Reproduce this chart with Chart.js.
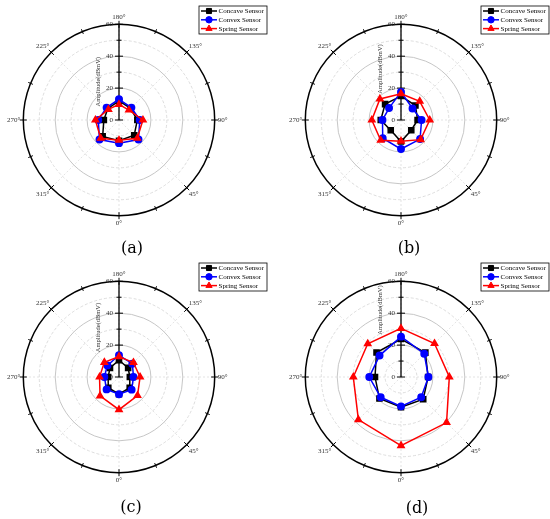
<!DOCTYPE html>
<html>
<head>
<meta charset="utf-8">
<script src="https://cdn.jsdelivr.net/npm/chart.js@4.4.0/dist/chart.umd.min.js"></script>
<style>
  html, body { margin: 0; padding: 0; background: #fff; width: 550px; height: 519px; overflow: hidden; position: relative; }
  canvas { position: absolute; }
  .cap { position: absolute; font-family: "DejaVu Serif", serif; font-size: 16px; color: #000; transform: translate(-50%, -50%); white-space: nowrap; }
</style>
</head>
<body>
<canvas id="ca" width="268" height="250"></canvas>
<canvas id="cb" width="268" height="250"></canvas>
<canvas id="cc" width="268" height="250"></canvas>
<canvas id="cd" width="268" height="250"></canvas>
<div class="cap" style="left:132px;top:247px">(a)</div>
<div class="cap" style="left:409px;top:247px">(b)</div>
<div class="cap" style="left:131px;top:506px">(c)</div>
<div class="cap" style="left:417px;top:507px">(d)</div>
<script>
// directions, clockwise from the top of each plot
const angleLabels = ['180°', '135°', '90°', '45°', '0°', '315°', '270°', '225°'];
const seriesNames = ['Concave Sensor', 'Convex Sensor', 'Spring Sensor'];
const radialTicks = [0, 20, 40, 60];
const axisTitle = 'Amplitude(dBmV)';

// amplitudes (dBmV) per direction
const concaveA = [12, 10.3, 11.5, 13.5, 13, 14.5, 9.5, 10];
const convexA  = [13, 11, 13, 17.3, 14.5, 17.3, 13, 11];
const springA  = [9.8, 8.8, 15, 16.2, 12.7, 16.2, 14.8, 9.4];

const concaveB = [15, 12.8, 10.4, 9.1, 13.5, 9.1, 12.7, 14.1];
const convexB  = [17.6, 10.2, 12.9, 16.9, 18.2, 16.2, 11.6, 10.6];
const springB  = [16.5, 16.6, 18, 17.4, 13.3, 18, 18.3, 18.7];

const concaveC = [10.5, 8.1, 6.8, 9.5, 10.8, 9.5, 6.8, 8];
const convexC  = [13.6, 11.8, 9.1, 11.2, 10.8, 11, 9.2, 10.3];
const springC  = [12.8, 12.8, 13.2, 16.4, 20.5, 16.8, 12.2, 13];

const concaveD = [23.8, 21.6, 17, 19.7, 19, 19.1, 16.3, 21.7];
const convexD  = [25.3, 20.6, 17.2, 17.9, 18.4, 18, 19.9, 19];
const springD  = [30.5, 29.7, 30.3, 40.4, 43, 37.8, 29.9, 29.5];

const colors = ['#000000', '#0000ff', '#ff0000'];
const styles = ['rect', 'circle', 'triangle'];
const radii = [3.6, 3.2, 3.6];

const panels = [
  { id: 'ca', cx: 119, cy: 121, titleAt: 24, data: [concaveA, convexA, springA] },
  { id: 'cb', cx: 401, cy: 121, titleAt: 32, data: [concaveB, convexB, springB] },
  { id: 'cc', cx: 119, cy: 378, titleAt: 31, data: [concaveC, convexC, springC] },
  { id: 'cd', cx: 401, cy: 378, titleAt: 42, data: [concaveD, convexD, springD] }
];

const serif = '"Liberation Serif", "Times New Roman", serif';

function marker(ctx, style, r, x, y, color) {
  if (Chart.helpers && Chart.helpers.drawPoint) {
    ctx.fillStyle = color;
    ctx.strokeStyle = color;
    ctx.lineWidth = 1;
    Chart.helpers.drawPoint(ctx, { pointStyle: style, radius: r, borderWidth: 1, rotation: 0 }, x, y);
    return;
  }
  ctx.fillStyle = color;
  ctx.beginPath();
  if (style === 'rect') ctx.rect(x - r * 0.707, y - r * 0.707, r * 1.414, r * 1.414);
  else if (style === 'circle') ctx.arc(x, y, r, 0, Math.PI * 2);
  else { ctx.moveTo(x, y - r); ctx.lineTo(x + r * 0.866, y + r / 2); ctx.lineTo(x - r * 0.866, y + r / 2); ctx.closePath(); }
  ctx.fill();
}

// vertical amplitude axis, ring ticks and axis title, like the Origin polar plot
const axisPlugin = {
  id: 'originAxis',
  beforeDatasetsDraw(chart) {
    const s = chart.scales.r;
    const ctx = chart.ctx;
    const x = s.xCenter, y = s.yCenter;
    const outer = s.getDistanceFromCenterForValue(60);
    ctx.save();
    // ticks on the outer ring every 22.5 deg
    ctx.strokeStyle = '#000';
    ctx.lineWidth = 1;
    for (let i = 0; i < 16; i++) {
      const a = i * Math.PI / 8 - Math.PI / 2;
      const len = i % 2 === 0 ? 3.5 : 2.5;
      ctx.beginPath();
      ctx.moveTo(x + Math.cos(a) * (outer - len), y + Math.sin(a) * (outer - len));
      ctx.lineTo(x + Math.cos(a) * (outer + len), y + Math.sin(a) * (outer + len));
      ctx.stroke();
    }
    // radial axis line
    ctx.lineWidth = 1.3;
    ctx.beginPath();
    ctx.moveTo(x, y);
    ctx.lineTo(x, y - outer);
    ctx.stroke();
    ctx.lineWidth = 1;
    for (let v = 0; v <= 60; v += 10) {
      const d = s.getDistanceFromCenterForValue(v);
      const len = v % 20 === 0 ? 4 : 2.5;
      ctx.beginPath();
      ctx.moveTo(x - len, y - d);
      ctx.lineTo(x + len, y - d);
      ctx.stroke();
    }
    ctx.fillStyle = '#333';
    ctx.font = '7px ' + serif;
    ctx.textAlign = 'right';
    ctx.textBaseline = 'middle';
    radialTicks.forEach(v => {
      ctx.fillText(String(v), x - 6, y - s.getDistanceFromCenterForValue(v));
    });
    // axis title
    const t = chart.options.plugins.originAxis.titleAt;
    ctx.translate(x - 21, y - s.getDistanceFromCenterForValue(t));
    ctx.rotate(-Math.PI / 2);
    ctx.font = '6.5px ' + serif;
    ctx.textAlign = 'center';
    ctx.fillText(axisTitle, 0, 0);
    ctx.restore();
  },
  afterDraw(chart) {
    // boxed legend in the top right corner
    const s = chart.scales.r;
    const ctx = chart.ctx;
    const bx = s.xCenter + 80, by = 6, bw = 68, bh = 28;
    ctx.save();
    ctx.fillStyle = '#fff';
    ctx.fillRect(bx, by, bw, bh);
    ctx.strokeStyle = '#000';
    ctx.lineWidth = 0.8;
    ctx.strokeRect(bx, by, bw, bh);
    chart.data.datasets.forEach((ds, i) => {
      const ry = by + 5 + i * 8.8;
      ctx.strokeStyle = ds.borderColor;
      ctx.lineWidth = 1.5;
      ctx.beginPath();
      ctx.moveTo(bx + 2, ry);
      ctx.lineTo(bx + 18, ry);
      ctx.stroke();
      marker(ctx, ds.pointStyle, ds.pointRadius, bx + 10, ry, ds.borderColor);
      ctx.fillStyle = '#000';
      ctx.font = '7px ' + serif;
      ctx.textAlign = 'left';
      ctx.textBaseline = 'middle';
      ctx.fillText(ds.label, bx + 19.5, ry + 0.5);
    });
    ctx.restore();
  }
};

panels.forEach(p => {
  const canvas = document.getElementById(p.id);
  canvas.style.left = (p.cx - 119) + 'px';
  canvas.style.top = (p.cy - 121) + 'px';
  new Chart(canvas.getContext('2d'), {
    type: 'radar',
    data: {
      labels: angleLabels,
      datasets: seriesNames.map((name, i) => ({
        label: name,
        data: p.data[i],
        borderColor: colors[i],
        backgroundColor: colors[i],
        pointBackgroundColor: colors[i],
        pointBorderColor: colors[i],
        pointStyle: styles[i],
        pointRadius: radii[i],
        borderWidth: 1.5,
        fill: false,
        order: 3 - i
      }))
    },
    options: {
      responsive: false,
      animation: false,
      layout: { padding: { left: 6, top: 9, right: 38, bottom: 17 } },
      scales: {
        r: {
          min: 0,
          max: 60,
          ticks: { display: false, stepSize: 10 },
          grid: {
            circular: true,
            color: c => c.tick.value === 60 ? '#000' : (c.tick.value % 20 === 0 ? '#b8b8b8' : '#d4d4d4'),
            lineWidth: c => c.tick.value === 60 ? 1.5 : 0.8
          },
          border: { dash: c => (c.tick && c.tick.value % 20 !== 0) ? [3, 2] : [] },
          angleLines: { color: '#dddddd', lineWidth: 0.8, borderDash: [2, 2] },
          pointLabels: { font: { family: serif, size: 7 }, color: '#333', padding: 3 }
        }
      },
      plugins: {
        legend: { display: false },
        tooltip: { enabled: false },
        originAxis: { titleAt: p.titleAt }
      }
    },
    plugins: [axisPlugin]
  });
});
</script>
</body>
</html>
